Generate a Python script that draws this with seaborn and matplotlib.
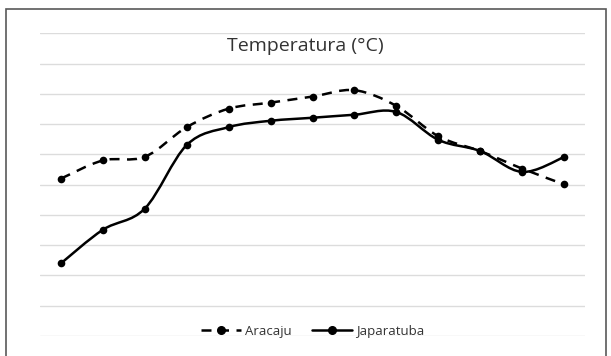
import numpy as np
import pandas as pd
import matplotlib
matplotlib.use("Agg")
import matplotlib.pyplot as plt
import seaborn as sns
from matplotlib.path import Path
from matplotlib.patches import PathPatch, Rectangle
from matplotlib.lines import Line2D

# Data (in gridline units)
points = list(range(1, 14))
aracaju = [5.20, 5.80, 5.92, 6.90, 7.51, 7.71, 7.91, 8.12, 7.60, 6.60, 6.11, 5.53, 5.01]
japaratuba = [2.40, 3.51, 4.21, 6.31, 6.90, 7.11, 7.21, 7.31, 7.40, 6.48, 6.11, 5.42, 5.91]
series_names = ["Aracaju", "Japaratuba"]
title = "Temperatura (°C)"

df = pd.DataFrame({
    "x": points * 2,
    "y": aracaju + japaratuba,
    "serie": [series_names[0]] * len(points) + [series_names[1]] * len(points),
})

sns.set_theme(style="white")
plt.rcParams['font.family'] = ['Open Sans', 'DejaVu Sans']

fig = plt.figure(figsize=(6.11, 3.56), dpi=100)
ax = fig.add_axes([40/611, 1-336/356, (585-40)/611, (336-33.3)/356])


def smooth_path(xs, ys):
    pts = np.column_stack([xs, ys]).astype(float)
    n = len(pts)
    verts = [pts[0]]
    codes = [Path.MOVETO]
    for i in range(n - 1):
        p0 = pts[i - 1] if i > 0 else pts[i]
        p1 = pts[i]
        p2 = pts[i + 1]
        p3 = pts[i + 2] if i + 2 < n else pts[i + 1]
        c1 = p1 + (p2 - p0) / 6.0
        c2 = p2 - (p3 - p1) / 6.0
        verts += [c1, c2, p2]
        codes += [Path.CURVE4] * 3
    return Path(verts, codes)


styles = {"Aracaju": (0, (4, 3)), "Japaratuba": "-"}
for name in series_names:
    sub = df[df["serie"] == name]
    ax.add_patch(PathPatch(smooth_path(sub["x"].values, sub["y"].values),
                           facecolor="none", edgecolor="black", lw=1.8,
                           linestyle=styles[name], zorder=3))

sns.lineplot(data=df, x="x", y="y", hue="serie", palette=["black", "black"],
             marker="o", markersize=5.5, markeredgewidth=0, linestyle="",
             legend=False, ax=ax, zorder=4)

ax.set_xlim(0.5, 13.5)
ax.set_ylim(0, 10)
ax.set_yticks(np.arange(0, 11, 1))
ax.set_xticks([])
ax.set_yticklabels([])
ax.tick_params(left=False, bottom=False)
ax.grid(axis="y", color="#dcdcdc", lw=1)
ax.set_xlabel("")
ax.set_ylabel("")
for s in ax.spines.values():
    s.set_visible(False)

fig.text(0.5, 1-46/356, title, ha="center", va="center", fontsize=14, color="#333333")

handles = [
    Line2D([], [], color="black", lw=1.8, linestyle=(0, (4, 3)), marker="o", markersize=5.5),
    Line2D([], [], color="black", lw=1.8, linestyle="-", marker="o", markersize=5.5),
]
leg = ax.legend(handles, series_names, loc="center", bbox_to_anchor=(0.5, (336-331)/(336-33.3)),
                ncol=2, frameon=False, fontsize=9.5, handlelength=3.0, columnspacing=1.6,
                handletextpad=0.3, borderaxespad=0)
for t in leg.get_texts():
    t.set_color("#333333")

fig.add_artist(Rectangle((6/611, -0.1), 600/611, 1.1 - 9/356, transform=fig.transFigure,
                         fill=False, edgecolor="#595959", lw=1.2))

fig.savefig("out.png", dpi=100)
